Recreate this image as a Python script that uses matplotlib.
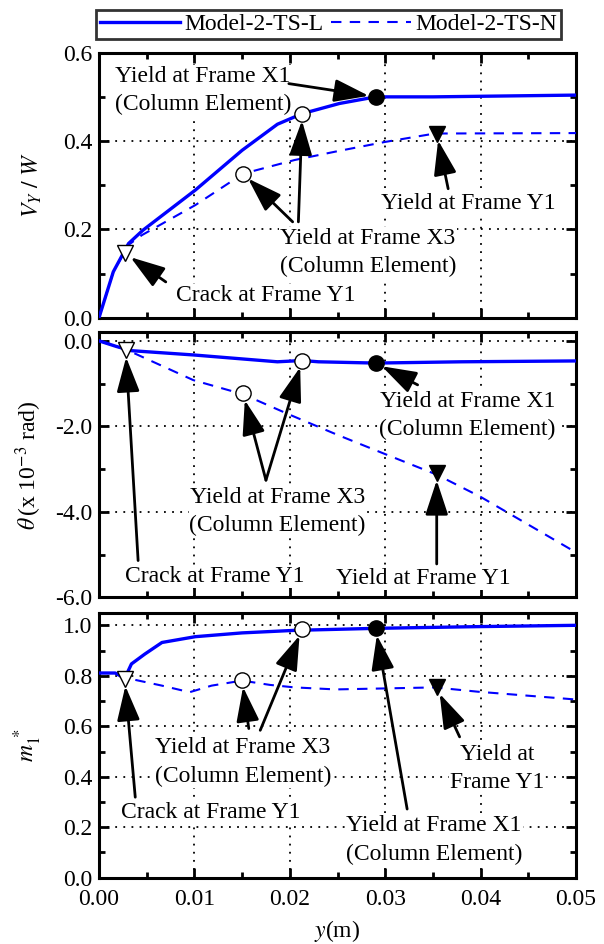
import matplotlib
matplotlib.use('Agg')
import matplotlib.pyplot as plt
from matplotlib.lines import Line2D
from matplotlib.ticker import MultipleLocator, FormatStrFormatter

plt.rcParams['font.family'] = ['Liberation Serif', 'DejaVu Serif']
plt.rcParams['mathtext.fontset'] = 'stix'
plt.rcParams['font.size'] = 17

# ---- data ----
# panel 1: V_Y / W
y_vl = [0, 0.0015, 0.0031, 0.0046, 0.0101, 0.0150, 0.0187, 0.0213, 0.0252, 0.029, 0.035, 0.05]
v_l = [0, 0.104, 0.168, 0.198, 0.289, 0.379, 0.438, 0.462, 0.485, 0.500, 0.500, 0.504]
y_vn = [0, 0.0015, 0.0031, 0.0045, 0.0101, 0.0151, 0.0205, 0.025, 0.030, 0.0352, 0.05]
v_n = [0, 0.104, 0.165, 0.187, 0.255, 0.326, 0.357, 0.377, 0.398, 0.417, 0.418]

# panel 2: theta (x 1e-3 rad)
y_tl = [0, 0.0018, 0.0034, 0.0099, 0.0187, 0.0213, 0.023, 0.029, 0.038, 0.05]
t_l = [0, -0.13, -0.23, -0.33, -0.49, -0.46, -0.49, -0.52, -0.49, -0.47]
y_tn = [0, 0.0018, 0.003, 0.0099, 0.0151, 0.0199, 0.025, 0.030, 0.0354, 0.040, 0.045, 0.05]
t_n = [0, -0.13, -0.22, -0.92, -1.25, -1.72, -2.20, -2.65, -3.13, -3.65, -4.30, -4.95]

# panel 3: m1*
y_ml = [0, 0.0017, 0.0027, 0.0034, 0.0048, 0.0066, 0.0101, 0.0150, 0.0205, 0.029, 0.04, 0.05]
m_l = [0.811, 0.811, 0.790, 0.847, 0.886, 0.932, 0.955, 0.970, 0.980, 0.988, 0.995, 1.0]
y_mn = [0, 0.0017, 0.0034, 0.0066, 0.0095, 0.0118, 0.0150, 0.0179, 0.0205, 0.0248, 0.030, 0.0352, 0.0397, 0.05]
m_n = [0.811, 0.811, 0.787, 0.761, 0.735, 0.761, 0.781, 0.764, 0.754, 0.746, 0.750, 0.754, 0.737, 0.706]

# event markers (x, value) per panel: crack Y1, yield X3 (L), yield X3 (N), yield X1 (L), yield Y1 (N)
crack = [(0.0027, 0.146), (0.0028, -0.22), (0.0027, 0.787)]
x3_l = [(0.0213, 0.462), (0.0213, -0.46), (0.0213, 0.985)]
x3_n = [(0.0151, 0.326), (0.0151, -1.23), (0.0150, 0.783)]
x1_l = [(0.029, 0.500), (0.029, -0.52), (0.029, 0.988)]
y1_n = [(0.0354, 0.417), (0.0354, -3.10), (0.0354, 0.754)]

ylabels = [r'$V_Y\ /\ W$', r'$\theta\,$(x 10$^{-3}$ rad)', r'$m_1^{\ *}$']

BLUE = '#0000ff'
fig = plt.figure(figsize=(6.04, 9.44), dpi=100)
left, width, height = 99 / 604, 477 / 604, 265 / 944
bottoms = [1 - 317.7 / 944, 1 - 597.3 / 944, 1 - 877.7 / 944]
axes = [fig.add_axes([left, b, width, height]) for b in bottoms]

series = [(y_vl, v_l, y_vn, v_n), (y_tl, t_l, y_tn, t_n), (y_ml, m_l, y_mn, m_n)]
ylims = [(0, 0.6), (-6.0, 0.2), (0, 1.05)]
majors = [0.2, 2.0, 0.2]

arrow = dict(arrowstyle='-|>,head_length=0.85,head_width=0.28', color='black', lw=2,
             mutation_scale=25, shrinkA=0, shrinkB=5)
tbox = dict(facecolor='white', edgecolor='none', pad=0.5)


def label(ax, x, y, s, ha='center'):
    ax.text(x, y, s, ha=ha, va='center', bbox=tbox, linespacing=1.45, zorder=5)


def note(ax, xy, xytext):
    ax.annotate('', xy=xy, xytext=xytext, arrowprops=arrow, zorder=6)


for i, ax in enumerate(axes):
    xl, yl, xn, yn = series[i]
    ax.plot(xl, yl, '-', color=BLUE, lw=2.4, zorder=3)
    ax.plot(xn, yn, '--', color=BLUE, lw=1.5, dashes=(5, 4), zorder=3)
    ax.plot(*crack[i], 'v', ms=12, mfc='white', mec='black', mew=1, zorder=7)
    ax.plot(*x3_l[i], 'o', ms=11, mfc='white', mec='black', mew=1, zorder=7)
    ax.plot(*x3_n[i], 'o', ms=11, mfc='white', mec='black', mew=1, zorder=7)
    ax.plot(*x1_l[i], 'o', ms=11, mfc='black', mec='black', zorder=7)
    ax.plot(*y1_n[i], 'v', ms=12, mfc='black', mec='black', zorder=7)

    ax.set_xlim(0, 0.05)
    ax.set_ylim(*ylims[i])
    ax.xaxis.set_major_locator(MultipleLocator(0.01))
    ax.xaxis.set_minor_locator(MultipleLocator(0.005))
    ax.yaxis.set_major_locator(MultipleLocator(majors[i]))
    ax.yaxis.set_minor_locator(MultipleLocator(majors[i] / 2))
    ax.yaxis.set_major_formatter(FormatStrFormatter('%.1f'))
    ax.xaxis.set_major_formatter(FormatStrFormatter('%.2f'))
    ax.tick_params(which='both', direction='in', top=True, right=True, width=2)
    ax.tick_params(which='major', length=7)
    ax.tick_params(which='minor', length=4)
    ax.tick_params(axis='x', pad=8)
    ax.tick_params(axis='y', pad=5)
    for s in ax.spines.values():
        s.set_linewidth(2.2)
    ax.grid(True, which='major', color='black', linestyle=(0, (1, 3.5)), lw=1.3)
    ax.set_ylabel(ylabels[i])
    ax.yaxis.set_label_coords(-0.115, 0.5)
    if i < 2:
        ax.tick_params(axis='x', labelbottom=False)

axes[2].set_xlabel(r'$y$(m)', labelpad=6)

# panel 1 annotations
ax = axes[0]
label(ax, 0.0017, 0.515, 'Yield at Frame X1\n(Column Element)', ha='left')
note(ax, x1_l[0], (0.0199, 0.530))
label(ax, 0.0282, 0.147, 'Yield at Frame X3\n(Column Element)')
note(ax, x3_l[0], (0.0209, 0.217))
note(ax, x3_n[0], (0.0203, 0.217))
label(ax, 0.0387, 0.259, 'Yield at Frame Y1')
note(ax, y1_n[0], (0.0366, 0.292))
label(ax, 0.0175, 0.051, 'Crack at Frame Y1')
note(ax, crack[0], (0.0070, 0.081))

# panel 2 annotations
ax = axes[1]
label(ax, 0.0121, -5.52, 'Crack at Frame Y1')
note(ax, crack[1], (0.0041, -5.14))
label(ax, 0.0187, -4.0, 'Yield at Frame X3\n(Column Element)')
note(ax, x3_n[1], (0.0175, -3.26))
note(ax, x3_l[1], (0.0175, -3.26))
label(ax, 0.0386, -1.75, 'Yield at Frame X1\n(Column Element)')
note(ax, x1_l[1], (0.0334, -1.03))
label(ax, 0.0340, -5.57, 'Yield at Frame Y1')
note(ax, y1_n[1], (0.0354, -5.22))

# panel 3 annotations
ax = axes[2]
label(ax, 0.0117, 0.259, 'Crack at Frame Y1')
note(ax, crack[2], (0.0038, 0.319))
label(ax, 0.0151, 0.458, 'Yield at Frame X3\n(Column Element)')
note(ax, x3_n[2], (0.0157, 0.591))
note(ax, x3_l[2], (0.0169, 0.584))
label(ax, 0.0417, 0.433, 'Yield at\nFrame Y1')
note(ax, y1_n[2], (0.0378, 0.558))
label(ax, 0.0351, 0.149, 'Yield at Frame X1\n(Column Element)')
note(ax, x1_l[2], (0.0323, 0.272))

handles = [Line2D([], [], color=BLUE, lw=2.4, ls='-'),
           Line2D([], [], color=BLUE, lw=1.5, ls='--', dashes=(5, 4))]
leg = fig.legend(handles, ['Model-2-TS-L', 'Model-2-TS-N'], loc='upper left',
                 bbox_to_anchor=(96 / 604, 1 - 10 / 944), ncol=2, frameon=True, fancybox=False,
                 edgecolor='black', borderpad=0.15, handlelength=3.4, handletextpad=0.2,
                 columnspacing=0.3, borderaxespad=0)
leg.get_frame().set_linewidth(2)

fig.savefig('out.png', dpi=100)
